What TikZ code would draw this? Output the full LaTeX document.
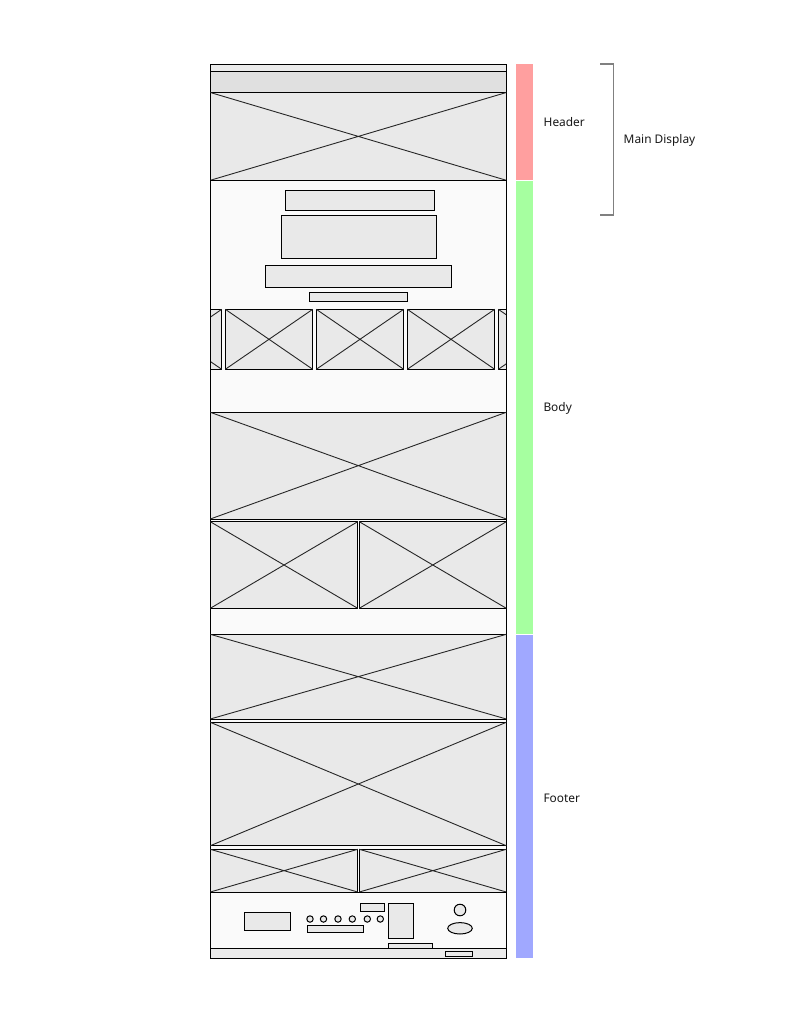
\documentclass[tikz,border=0pt]{standalone}
\usepackage{fontspec}
\setmainfont{Noto Sans}
\definecolor{imgfill}{HTML}{E9E9E9}
\definecolor{barfill}{HTML}{E0E0E0}
\definecolor{panelfill}{HTML}{FAFAFA}
\definecolor{stripfill}{HTML}{EBEBEB}
\definecolor{hdrcol}{HTML}{FF9F9F}
\definecolor{bodycol}{HTML}{A6FFA0}
\definecolor{footcol}{HTML}{A0A8FF}
\definecolor{brackcol}{HTML}{808080}
\newcommand\wfimg[4]{%
  \draw[wf, fill=imgfill] (#1,#2) rectangle (#3,#4);
  \draw[wfx] (#1,#2) -- (#3,#4) (#1,#4) -- (#3,#2);}
\tikzset{
  wf/.style={draw=black, line width=1pt},
  wfx/.style={draw=black!85, line width=0.9pt},
  boxel/.style={wf, fill=imgfill},
  lbl/.style={font=\fontsize{11.9}{14}\selectfont, anchor=west, inner sep=0pt, text=black!90},
}
\begin{document}
\begin{tikzpicture}[x=1pt, y=-1pt]
\useasboundingbox (0,0) rectangle (800,1024);
\fill[white] (0,0) rectangle (800,1024);
% header
\draw[wf, fill=stripfill] (210,64.3) rectangle (506.3,71.3);
\draw[wf, fill=barfill] (210,71.3) rectangle (506.3,92.5);
\wfimg{210.3}{92.5}{506.3}{180.3}
% body panel
\draw[wf, fill=panelfill] (210.3,180.3) rectangle (506.3,634.3);
\draw[boxel] (285.3,190.3) rectangle (434.7,210.3);
\draw[boxel] (281.3,215.3) rectangle (436.7,258.3);
\draw[boxel] (265.3,265.3) rectangle (451.7,287.3);
\draw[boxel] (309.3,292.3) rectangle (407.7,301.3);
% carousel
\begin{scope}
\clip (210.3,300) rectangle (506.3,380);
\wfimg{134.4}{309.3}{221.7}{369.3}
\wfimg{225.3}{309.3}{312.7}{369.3}
\wfimg{316.3}{309.3}{403.7}{369.3}
\wfimg{407.3}{309.3}{494.7}{369.3}
\wfimg{498.3}{309.3}{585.7}{369.3}
\end{scope}
\draw[wf] (210.3,309.3) -- (210.3,369.3) (506.3,309.3) -- (506.3,369.3);
\wfimg{210.3}{412.3}{506.3}{519}
\wfimg{210.3}{521.7}{357.7}{608.3}
\wfimg{359.3}{521.7}{506.3}{608.3}
% footer
\draw[wf, fill=panelfill] (210.3,634.3) rectangle (506.3,958.3);
\wfimg{210.3}{634.3}{506.3}{719}
\wfimg{210.3}{722.3}{506.3}{845.7}
\wfimg{210.3}{849.3}{357.7}{892}
\wfimg{359.3}{849.3}{506.3}{892}
\draw[wf, fill=panelfill] (210.3,892) rectangle (506.3,948.3);
\draw[wf, fill=stripfill] (210.3,948.3) rectangle (506.3,958.3);
\draw[boxel] (244.3,912.3) rectangle (290.3,930.3);
\foreach \cx in {310,323.5,338,352.3,367.3,380.3}
  \draw[wf, fill=imgfill] (\cx,919) circle (3.2);
\draw[boxel] (307.3,925.7) rectangle (363.3,932.3);
\draw[boxel] (360.7,903.3) rectangle (384.3,911.3);
\draw[boxel] (388.3,903.3) rectangle (413.7,938.3);
\draw[boxel] (388.3,943.3) rectangle (432.3,948.3);
\draw[boxel] (460,910) circle (5.8);
\draw[boxel] (460,928.3) ellipse (12.3 and 5.7);
\draw[boxel] (445.3,951) rectangle (472.3,956);
% colour bars
\fill[hdrcol] (516,64.3) rectangle (533,179.7);
\fill[bodycol] (516,181.3) rectangle (533,633.7);
\fill[footcol] (516,635) rectangle (533,958.3);
\node[lbl] (hdr) at (543.5,121.8) {Header};
\node[lbl] (bdy) at (543.3,408.8) {Body};
\node[lbl] (ftr) at (543.3,798.5) {Footer};
% bracket
\coordinate (bt) at (600,64);
\coordinate (bb) at (600,215);
\draw[brackcol, line width=1.5pt] (bt) -- (613.3,64) -- (613.3,215) -- (bb);
\node[lbl] (md) at (623.5,140) {Main Display};
\end{tikzpicture}
\end{document}
